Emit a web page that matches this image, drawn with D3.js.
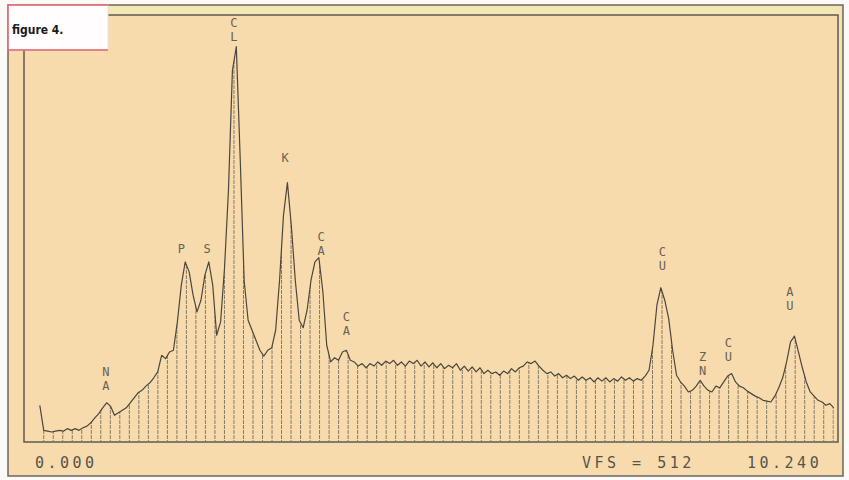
<!DOCTYPE html>
<html>
<head>
<meta charset="utf-8">
<script src="https://cdn.jsdelivr.net/npm/d3@7"></script>
<style>
  body { margin: 0; background: #fbfaf7; }
  svg { display: block; }
</style>
</head>
<body>
<div id="graph"></div>
<script>
// Spectrum channels: first channel energy and width (keV)
var startKeV = 0.15;
var stepKeV = 0.05;

// Counts per channel
var counts = [
    44, 14, 13, 12, 13, 14, 13, 16, 14, 16,
    14, 17, 19, 23, 29, 34, 41, 47, 43, 32,
    35, 38, 41, 47, 53, 59, 62, 67, 71, 77,
    84, 104, 100, 108, 110, 144, 188, 216, 204, 176,
    156, 170, 200, 216, 188, 128, 144, 209, 302, 445,
    474, 338, 193, 146, 134, 122, 110, 103, 110, 113,
    134, 194, 272, 311, 259, 194, 146, 137, 158, 194,
    216, 221, 181, 116, 96, 101, 98, 108, 110, 98,
    96, 91, 94, 89, 94, 91, 96, 92, 97, 94,
    98, 92, 96, 91, 97, 94, 98, 91, 96, 90,
    95, 89, 94, 88, 92, 89, 94, 86, 91, 85,
    90, 84, 89, 82, 86, 82, 84, 80, 85, 82,
    88, 84, 89, 91, 96, 94, 97, 91, 86, 82,
    84, 79, 82, 77, 80, 76, 79, 74, 78, 74,
    77, 72, 77, 73, 77, 72, 76, 73, 78, 74,
    77, 73, 76, 74, 79, 86, 116, 164, 185, 170,
    148, 110, 80, 72, 67, 60, 62, 67, 74, 67,
    62, 60, 67, 65, 72, 79, 82, 72, 67, 65,
    61, 58, 55, 53, 50, 49, 48, 55, 65, 77,
    96, 120, 127, 108, 89, 72, 60, 55, 50, 48,
    44, 46, 41
];

// Peak labels (stacked letters), anchored at energy / counts
var labelText = ["NA", "P", "S", "CL", "K", "CA", "CA", "CU", "ZN", "CU", "AU"];
var labelKeV = [0.99, 1.95, 2.28, 2.62, 3.27, 3.73, 4.05, 8.07, 8.58, 8.91, 9.69];
var labelCounts = [62, 227, 227, 481, 336, 224, 128, 206, 80, 97, 158];

// Bottom scale captions
var captionLeft = "0.000";
var captionMid = "VFS = 512";
var captionRight = "10.240";
var figureTitle = "figure 4.";

var W = 849, H = 480;
var plot = {left: 24, right: 838, top: 15, bottom: 442};

var x = d3.scaleLinear().domain([0, 10.24]).range([28, 833]);
var y = d3.scaleLinear().domain([0, 512]).range([plot.bottom, plot.top]);

var data = counts.map(function(c, i) {
    return {e: startKeV + i * stepKeV, c: c};
});

var svg = d3.select("#graph").append("svg")
    .attr("width", W)
    .attr("height", H);

// paper + outer frame
svg.append("rect")
    .attr("x", 8).attr("y", 5)
    .attr("width", 835).attr("height", 471)
    .attr("fill", "#f8dbac")
    .attr("stroke", "#6b6660")
    .attr("stroke-width", 1.5);

// light strip between outer and inner frame at top and right
svg.append("rect")
    .attr("x", 9).attr("y", 6)
    .attr("width", 833).attr("height", 9)
    .attr("fill", "#f4e8b2");
svg.append("rect")
    .attr("x", plot.right).attr("y", 6)
    .attr("width", 4).attr("height", plot.bottom - 6)
    .attr("fill", "#f3e3b0");

// inner plot box
svg.append("rect")
    .attr("x", plot.left).attr("y", plot.top)
    .attr("width", plot.right - plot.left)
    .attr("height", plot.bottom - plot.top)
    .attr("fill", "none")
    .attr("stroke", "#5e5a55")
    .attr("stroke-width", 1.5);

// area under the spectrum, used to clip the hatching
var area = d3.area()
    .x(function(d) { return x(d.e); })
    .y0(plot.bottom)
    .y1(function(d) { return y(d.c); })
    .curve(d3.curveLinear);

svg.append("clipPath")
    .attr("id", "under")
    .append("path")
    .attr("d", area(data));

var hatch = d3.range(0.2, 10.25, 0.121);
svg.append("g")
    .attr("clip-path", "url(#under)")
    .selectAll("line").data(hatch)
    .enter().append("line")
    .attr("x1", function(d) { return x(d); })
    .attr("x2", function(d) { return x(d); })
    .attr("y1", plot.top)
    .attr("y2", plot.bottom)
    .attr("stroke", "#857a68")
    .attr("stroke-width", 1)
    .attr("stroke-dasharray", "4,1");

// spectrum trace
var lineGenerator = d3.line()
    .x(function(d) { return x(d.e); })
    .y(function(d) { return y(d.c); })
    .curve(d3.curveLinear);

svg.append("path")
    .attr("d", lineGenerator(data))
    .attr("fill", "none")
    .attr("stroke", "#4a473d")
    .attr("stroke-width", 1.2)
    .attr("stroke-linejoin", "round");

// peak labels, letters stacked top to bottom in one text each
var pitch = 14;
var lab = svg.append("g")
    .attr("font-family", "DejaVu Sans Mono")
    .attr("font-size", 12)
    .attr("fill", "#676255")
    .attr("text-anchor", "middle");

labelText.forEach(function(t, i) {
    var letters = t.split("");
    var n = letters.length;
    var px = x(labelKeV[i]);
    var txt = lab.append("text")
        .attr("x", px)
        .attr("y", y(labelCounts[i]) - (n - 1) * pitch);
    letters.forEach(function(ch, j) {
        txt.append("tspan")
            .attr("x", px)
            .attr("dy", j === 0 ? 0 : pitch)
            .text(ch);
    });
});

// captions under the plot
var cap = svg.append("g")
    .attr("font-family", "DejaVu Sans Mono")
    .attr("font-size", 15)
    .attr("letter-spacing", "3.5px")
    .attr("fill", "#56534d");
cap.append("text").attr("x", 35).attr("y", 468).text(captionLeft);
cap.append("text").attr("x", 582).attr("y", 468).text(captionMid);
cap.append("text").attr("x", 747).attr("y", 468).text(captionRight);

// figure tag in the corner
svg.append("rect")
    .attr("x", 8).attr("y", 5)
    .attr("width", 100).attr("height", 45)
    .attr("fill", "#fffdfd")
    .attr("stroke", "#e8e0dc")
    .attr("stroke-width", 1);
svg.append("path")
    .attr("d", "M108,5 H8 V50 H108")
    .attr("fill", "none")
    .attr("stroke", "#e2606c")
    .attr("stroke-width", 1.5);
svg.append("text")
    .attr("x", 12).attr("y", 34)
    .attr("font-family", "DejaVu Sans Condensed")
    .attr("font-weight", "bold")
    .attr("font-size", 12)
    .attr("fill", "#1a1a1a")
    .text(figureTitle);
</script>
</body>
</html>
